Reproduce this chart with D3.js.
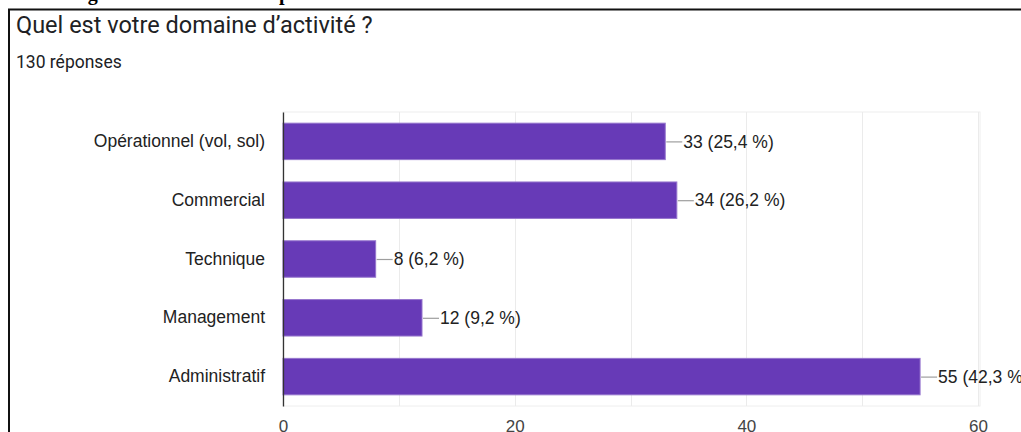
<!DOCTYPE html>
<html>
<head>
<meta charset="utf-8">
<script src="https://cdn.jsdelivr.net/npm/d3@7"></script>
<style>
  html, body { margin: 0; padding: 0; background: #fff; }
  svg { display: block; }
</style>
</head>
<body>
<div id="chart"></div>
<script>
// Survey question: field of activity (130 answers)
const categories = ["Opérationnel (vol, sol)", "Commercial", "Technique", "Management", "Administratif"];
const counts = [33, 34, 8, 12, 55];
const percents = ["25,4", "26,2", "6,2", "9,2", "42,3"];
const xTicks = [0, 20, 40, 60];
const gridValues = [10, 20, 30, 40, 50, 60];

const W = 1021, H = 432;
const svg = d3.select("#chart").append("svg")
  .attr("width", W).attr("height", H);

// Caption of the document figure, clipped by the page top
svg.append("text")
  .attr("x", 70).attr("y", 0)
  .attr("font-family", "'Liberation Serif', 'Times New Roman', serif")
  .attr("font-weight", "bold")
  .attr("font-size", 20)
  .attr("fill", "#000")
  .text("Figure 7 : Activité des répondants");

// Frame around the form card
svg.append("path")
  .attr("d", `M9,${H} V9.5 H${W}`)
  .attr("fill", "none")
  .attr("stroke", "#111")
  .attr("stroke-width", 2);

// Title and response count
svg.append("text")
  .attr("x", 16).attr("y", 33)
  .attr("font-family", "Roboto, Arial, sans-serif")
  .attr("font-size", 23.5)
  .attr("fill", "#202124")
  .text("Quel est votre domaine d’activité ?");

svg.append("text")
  .attr("x", 16).attr("y", 68)
  .attr("font-family", "Roboto, Arial, sans-serif")
  .attr("font-size", 17.5)
  .attr("fill", "#202124")
  .text("130 réponses");

// Plot area
const plot = { left: 283, right: 980, top: 112, bottom: 406 };

const x = d3.scaleLinear().domain([0, 60]).range([plot.left, plot.right - 2]);
const y = d3.scaleBand().domain(categories)
  .range([plot.top, plot.bottom]).paddingInner(0.38).paddingOuter(0.19);

const font = "'Liberation Sans', Arial, sans-serif";

// Plot frame and vertical gridlines
const g = svg.append("g");
g.append("rect")
  .attr("x", plot.left).attr("y", plot.top)
  .attr("width", plot.right - plot.left).attr("height", plot.bottom - plot.top)
  .attr("fill", "none").attr("stroke", "#eeeeee");

g.selectAll("line.grid").data(gridValues).join("line")
  .attr("class", "grid")
  .attr("x1", d => Math.round(x(d)) + 0.5).attr("x2", d => Math.round(x(d)) + 0.5)
  .attr("y1", plot.top).attr("y2", plot.bottom)
  .attr("stroke", "#ebebeb");

// Bars
g.selectAll("rect.bar").data(categories).join("rect")
  .attr("class", "bar")
  .attr("x", x(0))
  .attr("y", d => y(d))
  .attr("width", (d, i) => x(counts[i]) - x(0))
  .attr("height", y.bandwidth())
  .attr("fill", "#673ab7")
  .attr("stroke", "#9575cd")
  .attr("stroke-width", 1);

// Leader lines and value labels
g.selectAll("line.lead").data(categories).join("line")
  .attr("class", "lead")
  .attr("x1", (d, i) => x(counts[i]) + 1)
  .attr("x2", (d, i) => x(counts[i]) + 17)
  .attr("y1", d => y(d) + y.bandwidth() / 2 + 0.5)
  .attr("y2", d => y(d) + y.bandwidth() / 2 + 0.5)
  .attr("stroke", "#9e9e9e").attr("stroke-width", 1.2);

g.selectAll("text.val").data(categories).join("text")
  .attr("class", "val")
  .attr("x", (d, i) => x(counts[i]) + 18)
  .attr("y", d => y(d) + y.bandwidth() / 2)
  .attr("dy", "0.35em")
  .attr("font-family", font).attr("font-size", 17.5)
  .attr("fill", "#222")
  .text((d, i) => `${counts[i]} (${percents[i]} %)`);

// Category axis
const yAxis = svg.append("g")
  .attr("transform", `translate(${plot.left},0)`)
  .call(d3.axisLeft(y).tickSize(0).tickPadding(18));
yAxis.select(".domain").attr("stroke", "#333").attr("stroke-width", 1.3);
yAxis.selectAll("text")
  .attr("font-family", font).attr("font-size", 17.5).attr("fill", "#222");

// Value axis labels
const xAxis = svg.append("g")
  .attr("transform", `translate(0,${plot.bottom})`)
  .call(d3.axisBottom(x).tickValues(xTicks).tickSize(0).tickPadding(14));
xAxis.select(".domain").remove();
xAxis.selectAll("text")
  .attr("font-family", font).attr("font-size", 17).attr("fill", "#444");
</script>
</body>
</html>
